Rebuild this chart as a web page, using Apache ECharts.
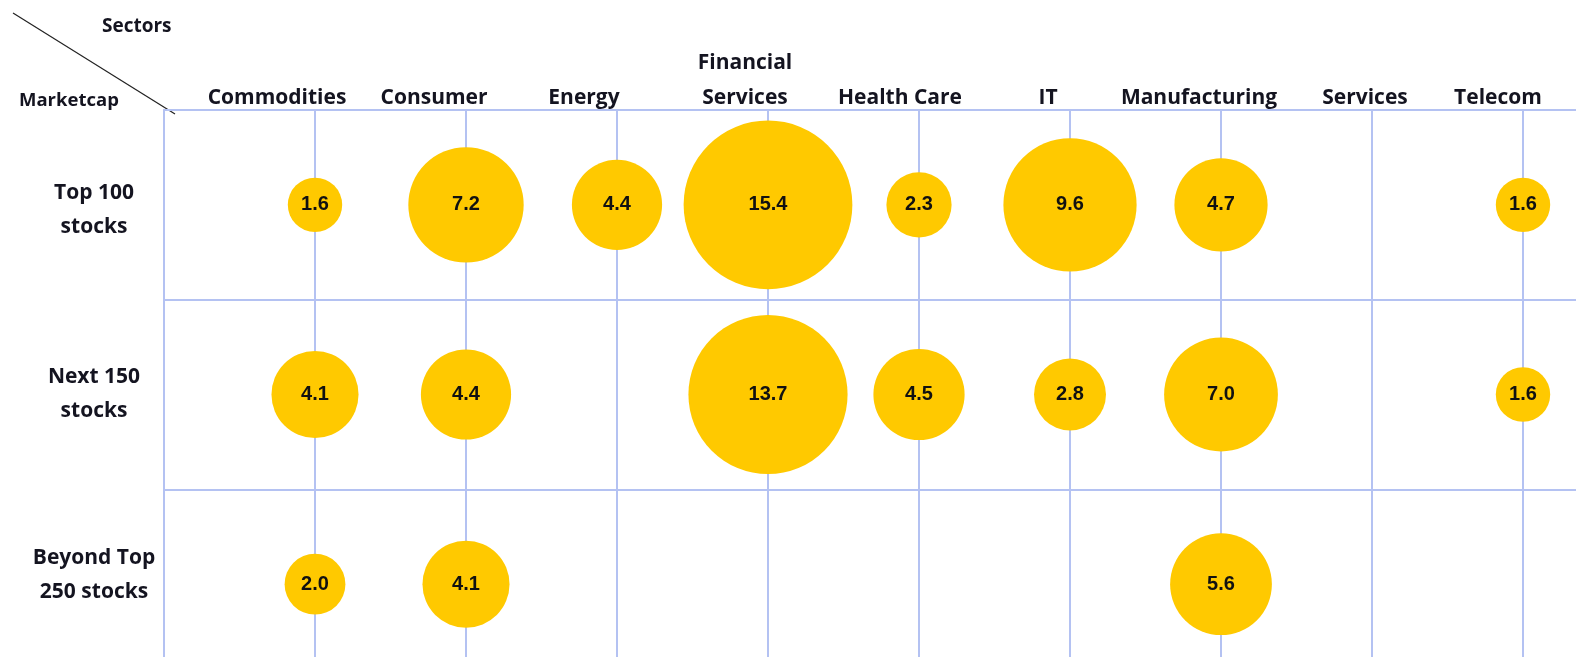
<!DOCTYPE html>
<html>
<head>
<meta charset="utf-8">
<script src="https://cdn.jsdelivr.net/npm/echarts@6/dist/echarts.min.js"></script>
<style>
  html, body { margin: 0; padding: 0; background: #fff; overflow: hidden; }
  /* chart is a bit larger than the window so the grid runs off the right and bottom edges */
  #chart { width: 1677px; height: 679px; }
</style>
</head>
<body>
<div id="chart"></div>
<script>
// sectors along the top, marketcap groups down the side
const sectors = ['Commodities', 'Consumer', 'Energy', 'Financial\nServices', 'Health Care', 'IT', 'Manufacturing', 'Services', 'Telecom'];
const marketcaps = ['Top 100\nstocks', 'Next 150\nstocks', 'Beyond Top\n250 stocks'];

// values per row, null = no bubble
const top100 = [1.6, 7.2, 4.4, 15.4, 2.3, 9.6, 4.7, null, 1.6];
const next150 = [4.1, 4.4, null, 13.7, 4.5, 2.8, 7.0, null, 1.6];
const beyond250 = [2.0, 4.1, null, null, null, null, 5.6, null, null];

const rows = [top100, next150, beyond250];

// the original's header labels sit a little left of their gridline, row labels drift a bit
const sectorLabelShift = [-38, -32, -33, -23, -19, -22, -22, -7, -25];
const rowLabelShift = [5, 0, -9];

const gridColor = '#b4c2f2';
const textColor = '#141420';
const labelFont = 'Open Sans';

// build points: x = sector position (1..9), y = row index
const points = [];
rows.forEach((row, r) => {
  row.forEach((v, i) => {
    if (v !== null) points.push([i + 1, r, v]);
  });
});

// rich styles for the header label offsets
const sectorRich = {};
sectorLabelShift.forEach((s, i) => {
  sectorRich['s' + i] = { padding: [0, Math.max(0, -2 * s), 0, Math.max(0, 2 * s)] };
});
// gap lines used to nudge row labels up or down
const rowRich = {};
rowLabelShift.forEach((s) => {
  if (s !== 0) rowRich['g' + Math.abs(s)] = { fontSize: 1, lineHeight: 2 * Math.abs(s) };
});

const chart = echarts.init(document.getElementById('chart'));

const option = {
  animation: false,
  grid: {
    left: 164,
    top: 110,
    right: 0,
    bottom: 0,
  },
  xAxis: {
    type: 'value',
    position: 'top',
    min: 0,
    max: 10,
    interval: 1,
    axisLine: { show: true, lineStyle: { color: gridColor, width: 2 } },
    axisTick: { show: false },
    axisLabel: {
      margin: -6,
      fontFamily: labelFont,
      fontWeight: 'bold',
      fontSize: 21,
      lineHeight: 35,
      color: textColor,
      rich: sectorRich,
      formatter: (v) => {
        const name = sectors[v - 1];
        return name ? `{s${v - 1}|${name}}` : '';
      },
    },
    splitLine: { show: true, lineStyle: { color: gridColor, width: 2 } },
  },
  yAxis: {
    type: 'category',
    inverse: true,
    data: marketcaps,
    boundaryGap: true,
    axisLine: { show: true, lineStyle: { color: gridColor, width: 2 } },
    axisTick: { show: false },
    axisLabel: {
      margin: 70,
      align: 'center',
      fontFamily: labelFont,
      fontWeight: 'bold',
      fontSize: 21,
      lineHeight: 34,
      color: textColor,
      rich: rowRich,
      formatter: (v, i) => {
        const s = rowLabelShift[i];
        if (s > 0) return `{g${s}| }\n${v}`;
        if (s < 0) return `${v}\n{g${-s}| }`;
        return v;
      },
    },
    splitLine: { show: true, lineStyle: { color: gridColor, width: 2 } },
  },
  series: [
    {
      type: 'scatter',
      data: points,
      symbolSize: (d) => 43 * Math.sqrt(d[2]),
      itemStyle: { color: '#ffc900', opacity: 1 },
      label: {
        show: true,
        position: 'inside',
        formatter: (p) => p.value[2].toFixed(1),
        fontFamily: 'Liberation Sans',
        fontWeight: 'bold',
        fontSize: 20,
        color: '#111',
      },
      z: 3,
    },
  ],
  graphic: [
    {
      type: 'line',
      shape: { x1: 13, y1: 13, x2: 175, y2: 114 },
      style: { stroke: '#222', lineWidth: 1.2 },
    },
    {
      type: 'text',
      x: 102,
      y: 27,
      style: { text: 'Sectors', font: 'bold 19px "Open Sans"', fill: textColor, verticalAlign: 'middle' },
    },
    {
      type: 'text',
      x: 19,
      y: 101,
      style: { text: 'Marketcap', font: 'bold 18.5px "Open Sans"', fill: textColor, verticalAlign: 'middle' },
    },
  ],
};

chart.setOption(option);
window.addEventListener('resize', () => chart.resize());
</script>
</body>
</html>
